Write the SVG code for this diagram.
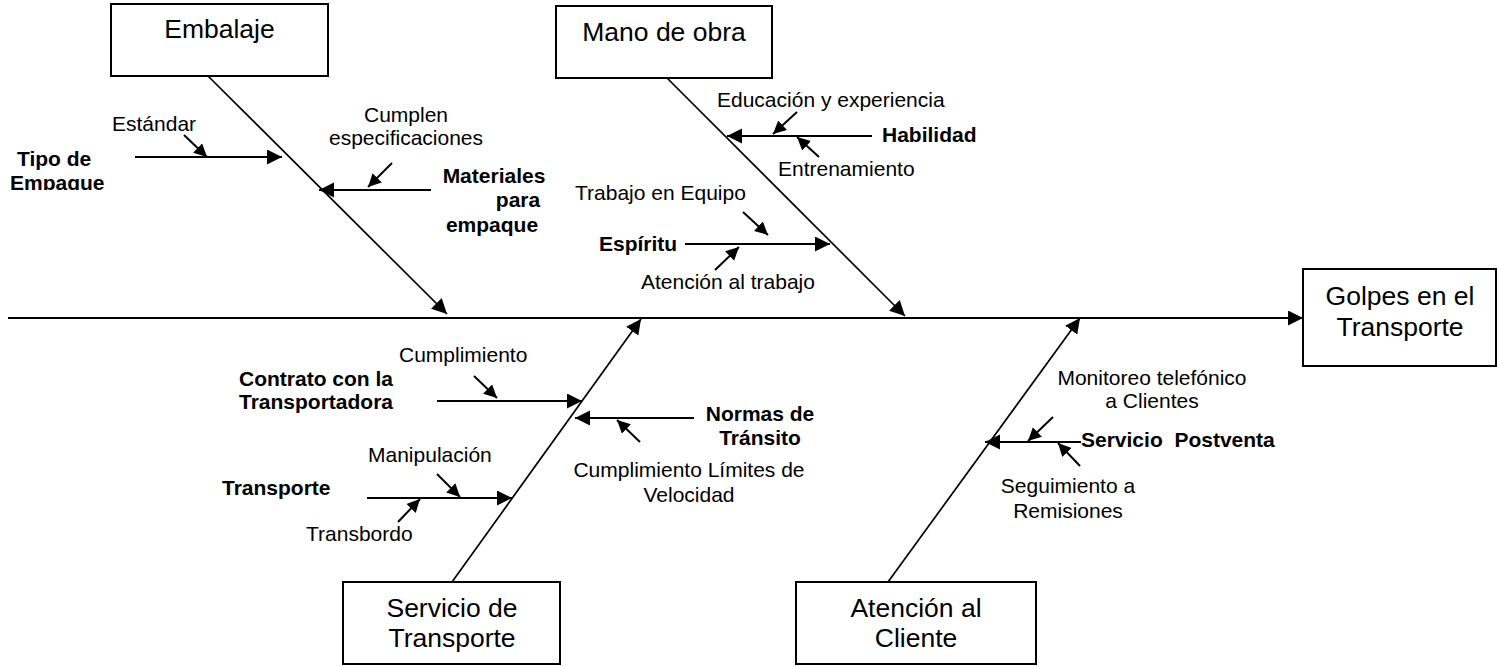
<svg xmlns="http://www.w3.org/2000/svg" width="1497" height="666" viewBox="0 0 1497 666">
<style>
.box{fill:#fff;stroke:#000;stroke-width:2}
.bt{font-family:"Liberation Sans",Arial,sans-serif;font-size:26.5px;fill:#000;text-anchor:middle}
.t{font-family:"Liberation Sans",Arial,sans-serif;font-size:21px;fill:#000}
.b{font-family:"Liberation Sans",Arial,sans-serif;font-size:21px;font-weight:bold;fill:#000}
.m{text-anchor:middle}
.ln{stroke:#000;fill:none;stroke-width:2}
.sp{stroke:#000;fill:none;stroke-width:1.7}
.big{marker-end:url(#ah)}
.sm{marker-end:url(#as)}
</style>
<defs>
<marker id="ah" markerUnits="userSpaceOnUse" markerWidth="16" markerHeight="16" refX="15" refY="7.5" orient="auto"><path d="M0,0 L15,7.5 L0,15 z" fill="#000"/></marker>
<marker id="as" markerUnits="userSpaceOnUse" markerWidth="14" markerHeight="14" refX="13" refY="6.5" orient="auto"><path d="M0,0 L13,6.5 L0,13 z" fill="#000"/></marker>
<clipPath id="clipTipo"><rect x="0" y="140" width="130" height="50"/></clipPath>
</defs>
<rect width="1497" height="666" fill="#fff"/>

<g id="connectors">
<line class="ln big" x1="8" y1="318" x2="1303" y2="318"/>
<line class="sp big" x1="208" y1="76" x2="447" y2="314"/>
<line class="sp big" x1="667" y1="78" x2="905" y2="316"/>
<line class="sp big" x1="452" y1="582" x2="641" y2="319"/>
<line class="sp big" x1="888" y1="582" x2="1080" y2="318"/>
<line class="ln big" x1="135" y1="157" x2="282" y2="157"/>
<line class="ln sm" x1="184" y1="135" x2="207" y2="157"/>
<line class="ln big" x1="431" y1="190" x2="319" y2="190"/>
<line class="ln sm" x1="392" y1="163" x2="368" y2="187"/>
<line class="ln big" x1="872" y1="136" x2="727" y2="136"/>
<line class="ln sm" x1="797" y1="112" x2="773" y2="134"/>
<line class="ln sm" x1="819" y1="157" x2="797" y2="137"/>
<line class="ln big" x1="685" y1="244" x2="830" y2="244"/>
<line class="ln sm" x1="743" y1="212" x2="768" y2="235"/>
<line class="ln sm" x1="715" y1="270" x2="739" y2="247"/>
<line class="ln big" x1="437" y1="401" x2="582" y2="401"/>
<line class="ln sm" x1="474" y1="376" x2="497" y2="398"/>
<line class="ln big" x1="694" y1="418" x2="575" y2="418"/>
<line class="ln sm" x1="640" y1="442" x2="617" y2="420"/>
<line class="ln big" x1="367" y1="498" x2="512" y2="498"/>
<line class="ln sm" x1="437" y1="474" x2="460" y2="497"/>
<line class="ln sm" x1="398" y1="522" x2="420" y2="499"/>
<line class="ln big" x1="1081" y1="442" x2="985" y2="442"/>
<line class="ln sm" x1="1053" y1="417" x2="1028" y2="441"/>
<line class="ln sm" x1="1080" y1="466" x2="1058" y2="443"/>
</g>

<g id="embalaje">
<rect class="box" x="111" y="4" width="217" height="72"/>
<text class="bt" x="219.5" y="38">Embalaje</text>
</g>
<g id="mano-de-obra">
<rect class="box" x="556" y="6" width="216" height="72"/>
<text class="bt" x="664" y="41">Mano de obra</text>
</g>
<g id="golpes">
<rect class="box" x="1303" y="269" width="193" height="97"/>
<text class="bt" x="1400" y="305">Golpes en el</text>
<text class="bt" x="1400" y="336">Transporte</text>
</g>
<g id="servicio-transporte">
<rect class="box" x="343" y="582" width="217" height="82"/>
<text class="bt" x="452" y="617">Servicio de</text>
<text class="bt" x="452" y="647">Transporte</text>
</g>
<g id="atencion-cliente">
<rect class="box" x="796" y="582" width="240" height="82"/>
<text class="bt" x="916" y="617">Atención al</text>
<text class="bt" x="916" y="647">Cliente</text>
</g>

<g id="tipo-empaque">
<text class="b" x="17" y="166" clip-path="url(#clipTipo)">Tipo de</text>
<text class="b" x="10" y="190" clip-path="url(#clipTipo)">Empaque</text>
</g>
<g id="estandar"><text class="t" x="112" y="131">Estándar</text></g>
<g id="cumplen">
<text class="t m" x="406" y="122">Cumplen</text>
<text class="t m" x="406" y="145">especificaciones</text>
</g>
<g id="materiales">
<text class="b m" x="494" y="183">Materiales</text>
<text class="b m" x="518" y="207">para</text>
<text class="b m" x="492" y="232">empaque</text>
</g>
<g id="educacion"><text class="t" x="717" y="107">Educación y experiencia</text></g>
<g id="habilidad"><text class="b" x="882" y="142">Habilidad</text></g>
<g id="entrenamiento"><text class="t" x="778" y="176">Entrenamiento</text></g>
<g id="trabajo-equipo"><text class="t" x="575" y="200">Trabajo en Equipo</text></g>
<g id="espiritu"><text class="b" x="599" y="251">Espíritu</text></g>
<g id="atencion-trabajo"><text class="t" x="641" y="289">Atención al trabajo</text></g>
<g id="cumplimiento"><text class="t" x="399" y="362">Cumplimiento</text></g>
<g id="contrato">
<text class="b" x="239" y="386">Contrato con la</text>
<text class="b" x="239" y="409">Transportadora</text>
</g>
<g id="normas">
<text class="b m" x="760" y="421">Normas de</text>
<text class="b m" x="760" y="445">Tránsito</text>
</g>
<g id="limites">
<text class="t m" x="689" y="477">Cumplimiento Límites de</text>
<text class="t m" x="689" y="502">Velocidad</text>
</g>
<g id="manipulacion"><text class="t" x="368" y="462">Manipulación</text></g>
<g id="transporte"><text class="b" x="222" y="495">Transporte</text></g>
<g id="transbordo"><text class="t" x="306" y="541">Transbordo</text></g>
<g id="monitoreo">
<text class="t m" x="1152" y="385">Monitoreo telefónico</text>
<text class="t m" x="1152" y="408">a Clientes</text>
</g>
<g id="postventa"><text class="b" x="1081" y="447" style="white-space:pre">Servicio  Postventa</text></g>
<g id="seguimiento">
<text class="t m" x="1068" y="493">Seguimiento a</text>
<text class="t m" x="1068" y="518">Remisiones</text>
</g>
</svg>
